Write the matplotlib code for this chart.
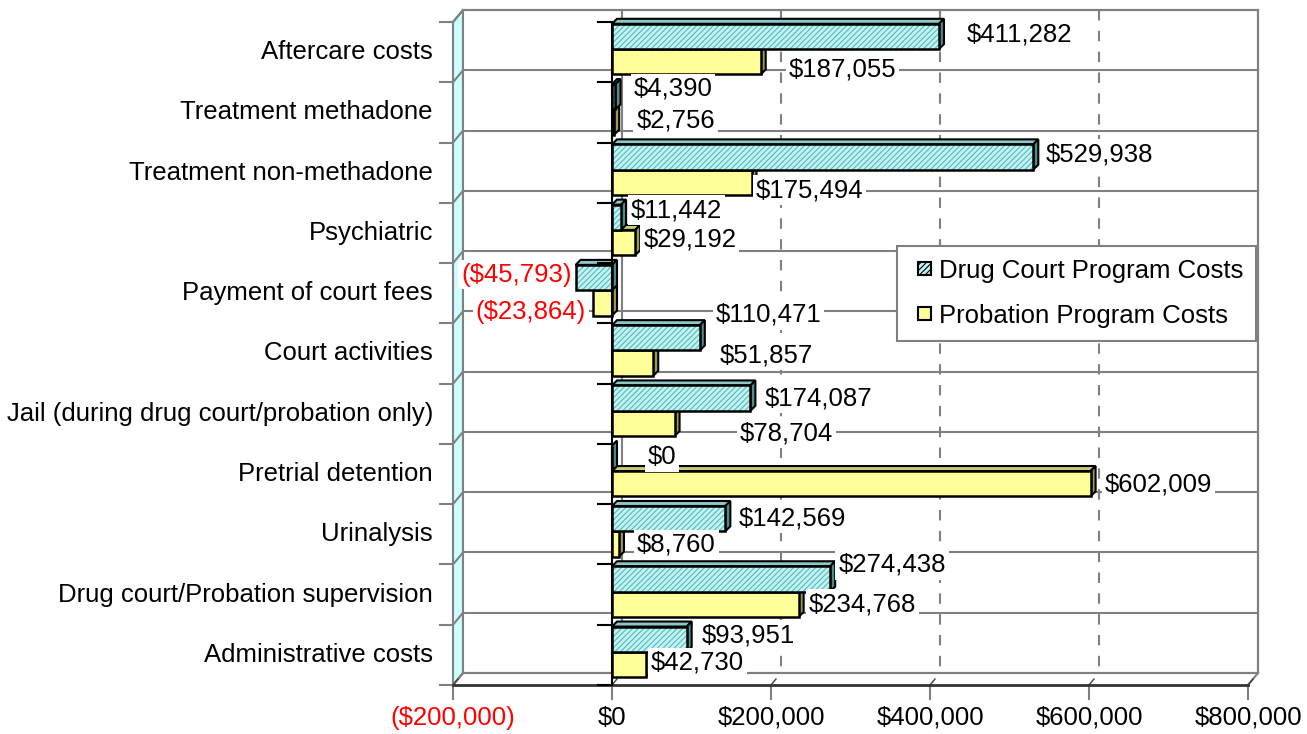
import numpy as np
import matplotlib
matplotlib.use("Agg")
import matplotlib.pyplot as plt
from matplotlib.patches import Polygon, Patch, Rectangle
from matplotlib.legend_handler import HandlerPatch

plt.rcParams["font.family"] = ["Liberation Sans", "DejaVu Sans"]
plt.rcParams["hatch.linewidth"] = 0.8

# ── data ──────────────────────────────────────────────────────────────────────
CATEGORIES = [
    "Aftercare costs",
    "Treatment methadone",
    "Treatment non-methadone",
    "Psychiatric",
    "Payment of court fees",
    "Court activities",
    "Jail (during drug court/probation only)",
    "Pretrial detention",
    "Urinalysis",
    "Drug court/Probation supervision",
    "Administrative costs",
]
DRUG_COURT = [411282, 4390, 529938, 11442, -45793, 110471, 174087, 0, 142569, 274438, 93951]
PROBATION  = [187055, 2756, 175494, 29192, -23864, 51857, 78704, 602009, 8760, 234768, 42730]
SERIES_NAMES = ["Drug Court Program Costs", "Probation Program Costs"]
X_TICKS = [-200000, 0, 200000, 400000, 600000, 800000]

# data-label nudges (pixels) as Excel placed them: (dx, dy from bar centre, +down)
DC_LABEL_OFF = [(28, -2), (18, -8), (12, -3), (10, -7), (-4, -3), (16, -23),
                (14, 0), (36, -1), (13, 0), (8, -14), (15, -4)]
PR_LABEL_OFF = [(28, 8), (22, -2), (4, 8), (8, -3), (-7, 9), (66, -8),
                (65, 10), (14, 1), (18, 1), (10, 0), (5, -2)]

# ── layout (pixels) ───────────────────────────────────────────────────────────
W, H = 1307, 734
AX_L, AX_R, AX_T, AX_B = 453, 1248, 22, 685
XMIN, XMAX = -200000, 800000
N = len(CATEGORIES)
WALL_DX, WALL_DY = 10, 12      # back wall offset
BAR_D = 5                       # bar depth
FS = 18.5

fig = plt.figure(figsize=(W / 100, H / 100), dpi=100)
ax = fig.add_axes([AX_L / W, 1 - AX_B / H, (AX_R - AX_L) / W, (AX_B - AX_T) / H])
ax.set_xlim(XMIN, XMAX)
ax.set_ylim(N, 0)
ax.axis("off")

PX = (XMAX - XMIN) / (AX_R - AX_L)   # data units per px (x)
PY = N / (AX_B - AX_T)               # data units per px (y, + is down)

def shift(pts, dx, dy):
    """shift data points by dx px right, dy px up"""
    return [(x + dx * PX, y - dy * PY) for x, y in pts]

GRID = "#808080"
kw = dict(clip_on=False)

# ── walls ─────────────────────────────────────────────────────────────────────
left_wall = [(XMIN, 0), (XMIN, N)] + shift([(XMIN, N), (XMIN, 0)], WALL_DX, WALL_DY)
ax.add_patch(Polygon(left_wall, closed=True, facecolor="#CCFFFF", edgecolor=GRID,
                     lw=1.5, zorder=1, **kw))

back = shift([(XMIN, 0), (XMAX, 0), (XMAX, N), (XMIN, N)], WALL_DX, WALL_DY)
ax.add_patch(Polygon(back, closed=True, facecolor="white", edgecolor=GRID,
                     lw=1.5, zorder=1, **kw))

# horizontal grid on back wall + on left wall
for k in range(N + 1):
    (bx0, by), (bx1, _) = shift([(XMIN, k), (XMAX, k)], WALL_DX, WALL_DY)
    ax.plot([bx0, bx1], [by, by], color=GRID, lw=1.5, zorder=1.5, **kw)
    ax.plot([XMIN, bx0], [k, by], color=GRID, lw=1.5, zorder=1.5, **kw)
    # outer ticks left of wall and category ticks on the $0 axis
    ax.plot([XMIN - 13 * PX, XMIN], [k, k], color=GRID, lw=1.5, zorder=1.5, **kw)
    ax.plot([-14 * PX, 0], [k, k], color="black", lw=1.5, zorder=6, **kw)

# vertical grid on back wall
for xv in X_TICKS[1:]:
    (gx, gy0), (_, gy1) = shift([(xv, 0), (xv, N)], WALL_DX, WALL_DY)
    ls = "-" if xv in (0, XMAX) else (0, (5, 5))
    ax.plot([gx, gx], [gy0, gy1], color=GRID, lw=1.5, ls=ls, zorder=1.5, **kw)

# floor edges, x ticks
(fx, fy), = shift([(XMAX, N)], WALL_DX, WALL_DY)
ax.plot([XMAX, fx], [N, fy], color=GRID, lw=1.5, zorder=1.5, **kw)
for xv in X_TICKS:
    (tx, ty), = shift([(xv, N)], 5, 6)
    ax.plot([xv, tx], [N, ty], color="#404040", lw=1, zorder=1.6, **kw)
    ax.plot([xv, xv], [N, N + 14 * PY], color=GRID, lw=1.5, zorder=1.6, **kw)
    lab = f"${xv:,.0f}" if xv >= 0 else f"(${-xv:,.0f})"
    ax.text(xv, N + 33 * PY, lab, ha="center", va="center", fontsize=FS,
            color="red" if xv < 0 else "black", **kw)
ax.plot([XMIN, XMAX], [N, N], color="#333333", lw=2, zorder=5, **kw)
ax.plot([0, 0], [0, N], color="black", lw=1.5, zorder=5, **kw)

# ── bars ──────────────────────────────────────────────────────────────────────
TEAL_FRONT, TEAL_HATCH = "#C0F4F4", "#5CB6B6"
STYLE = {
    0: dict(front=TEAL_FRONT, top="#8CC8C8", side="#4E8C8C", hatch=TEAL_HATCH, pos=0.03),
    1: dict(front="#FFFF99", top="#CCCC77", side="#99995C", hatch=None, pos=0.45),
}
BAR_H = 0.42

def bar3d(i, v, s):
    st = STYLE[s]
    y0 = i + st["pos"]
    y1 = y0 + BAR_H
    x0, x1 = min(v, 0), max(v, 0)
    face = [(x0, y0), (x1, y0), (x1, y1), (x0, y1)]
    top = [(x0, y0), (x1, y0)] + shift([(x1, y0), (x0, y0)], BAR_D, BAR_D)
    side = [(x1, y0), (x1, y1)] + shift([(x1, y1), (x1, y0)], BAR_D, BAR_D)
    z = 3 + i * 0.01 + (0.005 if s == 0 else 0)
    for pts, col in [(top, st["top"]), (side, st["side"])]:
        ax.add_patch(Polygon(pts, closed=True, facecolor=col, edgecolor="black",
                             lw=1.5, zorder=z, joinstyle="miter", **kw))
    ax.barh(i + st["pos"] + BAR_H / 2, v, height=BAR_H, color=st["front"],
            edgecolor=st["hatch"] or st["front"], lw=0,
            hatch="//////" if st["hatch"] else None, zorder=z, **kw)
    ax.add_patch(Polygon(face, closed=True, fill=False, edgecolor="black",
                         lw=1.8, zorder=z, joinstyle="miter", **kw))
    return (y0 + y1) / 2

for i in range(N):
    for s, vals, offs in [(1, PROBATION, PR_LABEL_OFF), (0, DRUG_COURT, DC_LABEL_OFF)]:
        v = vals[i]
        yc = bar3d(i, v, s)
        dx, dy = offs[i]
        if v < 0:
            ax.text(v + dx * PX, yc + dy * PY, f"(${-v:,.0f})", ha="right", va="center",
                    fontsize=FS, color="red", zorder=10,
                    bbox=dict(facecolor="white", edgecolor="none", pad=2), **kw)
        else:
            ax.text(v + dx * PX, yc + dy * PY, f"${v:,.0f}", ha="left", va="center",
                    fontsize=FS, color="black", zorder=10,
                    bbox=dict(facecolor="white", edgecolor="none", pad=2), **kw)

# category labels
for i, name in enumerate(CATEGORIES):
    ax.text(XMIN - 20 * PX, i + 0.5, name, ha="right", va="center", fontsize=FS, **kw)

# ── legend ────────────────────────────────────────────────────────────────────
def small_square(legend, orig_handle, xdescent, ydescent, width, height, fontsize):
    s = 0.5 * fontsize
    return Rectangle((-xdescent + width - s, -ydescent + (height - s) / 2), s, s)

handles = [Patch(facecolor=TEAL_FRONT, edgecolor="black", hatch="//////", lw=1.5),
           Patch(facecolor="#FFFF99", edgecolor="black", lw=1.5)]
leg = fig.legend(handles, SERIES_NAMES, loc="upper left",
                 bbox_to_anchor=(897 / W, 1 - 246 / H), fontsize=FS,
                 fancybox=False, framealpha=1, edgecolor=GRID,
                 handler_map={Patch: HandlerPatch(patch_func=small_square)},
                 handlelength=0.83, handleheight=0.7, handletextpad=0.3,
                 labelspacing=0.82, borderpad=0.5, borderaxespad=0)
leg.get_frame().set_linewidth(1.5)
leg.set_zorder(20)

fig.savefig("out.png", dpi=100)
